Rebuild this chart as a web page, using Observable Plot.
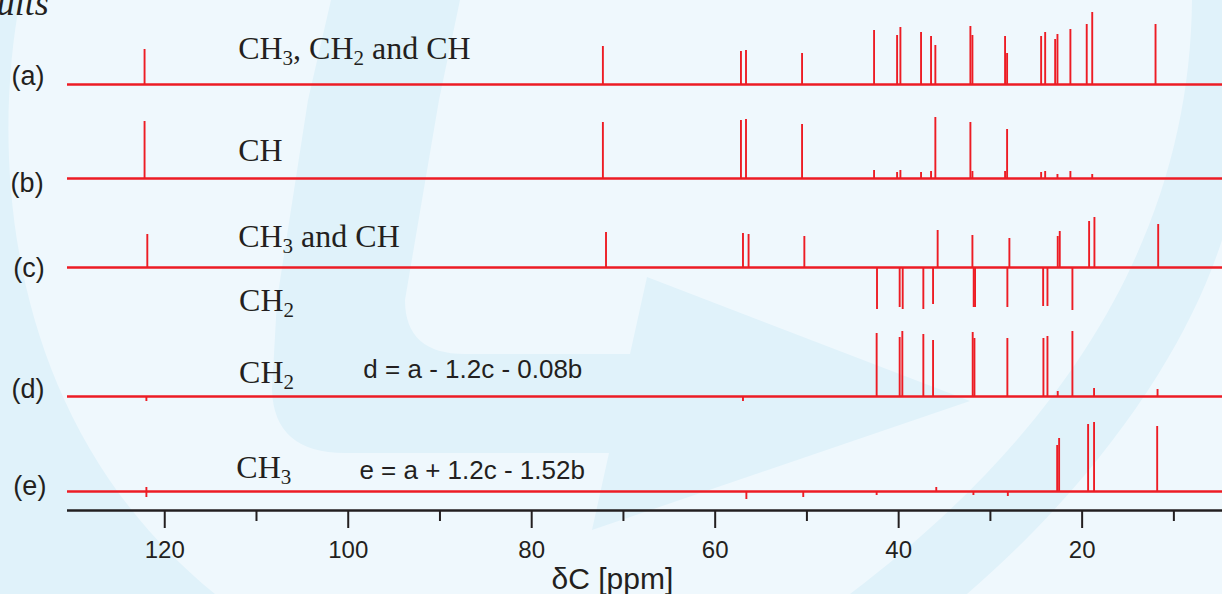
<!DOCTYPE html>
<html><head><meta charset="utf-8">
<script src="https://cdn.jsdelivr.net/npm/d3@7"></script>
<script src="https://cdn.jsdelivr.net/npm/@observablehq/plot@0.6"></script>
<style>
html,body{margin:0;padding:0;background:#eff8fd;}
#chart{width:1222px;height:594px;overflow:hidden;position:relative;}
</style></head><body><div id="chart"></div>
<script>
// ---- data ----
const traceNames   = ["a", "b", "c", "d", "e"];
const traceOffsets = [426, 332, 243, 114, 19];   // vertical stacking offset of each spectrum

// (a) CH3, CH2 and CH
const peaksA_ppm = [122.2, 72.24, 57.19, 56.64, 50.53, 42.68, 40.17, 39.81, 37.56, 36.47, 36.00, 32.18, 31.96, 28.40, 28.18, 24.47, 24.03, 22.94, 22.69, 21.28, 19.50, 18.90, 12.00];
const peaksA_int = [35, 38, 33, 34, 31, 54, 49, 57, 52, 48, 39, 58, 49, 48, 31, 48, 52, 45, 50, 55, 60, 72, 60];
// (b) CH
const peaksB_ppm = [122.2, 72.24, 57.19, 56.64, 50.53, 42.68, 40.17, 39.81, 37.56, 36.47, 36.00, 32.18, 31.96, 28.40, 28.18, 24.47, 24.03, 22.69, 21.28, 18.90];
const peaksB_int = [57, 56, 58, 59, 54, 8, 6, 8, 6, 7, 61, 56, 7, 7, 49, 6, 7, 4, 7, 4];
// (c) CH3 and CH up, CH2 down
const peaksC_ppm = [121.9, 71.9, 56.97, 56.36, 50.28, 35.75, 31.96, 27.93, 22.66, 22.44, 19.24, 18.66, 11.71, 42.36, 39.89, 39.56, 37.31, 36.25, 31.82, 31.67, 28.15, 24.25, 23.78, 21.06];
const peaksC_int = [33, 35, 34, 33, 31, 37, 32, 29, 31, 36, 46, 50, 43, -42, -40, -42, -42, -37, -40, -40, -40, -39, -39, -43];
// (d) CH2
const peaksD_ppm = [42.40, 39.89, 39.60, 37.31, 36.25, 31.93, 31.74, 28.15, 24.22, 23.78, 21.06, 22.66, 18.70, 11.78, 56.97, 122.0];
const peaksD_int = [63, 59, 65, 62, 56, 64, 58, 58, 58, 60, 65, 5, 8, 7, -5, -5];
// (e) CH3
const peaksE_ppm = [22.72, 22.51, 19.35, 18.70, 11.82, 122.0, 122.0, 56.6, 50.4, 42.4, 35.9, 31.85, 28.1];
const peaksE_int = [46, 53, 67, 69, 65, 4, -6, -8, -6, -4, 4, -4, -5];

const majorTicks = [120, 100, 80, 60, 40, 20];
const minorTicks = [110, 90, 70, 50, 30, 10];

const panelLabels = ["(a)", "(b)", "(c)", "(d)", "(e)"];
const panelLabelX = [136.7, 136.8, 136.5, 136.7, 136.5];
const panelLabelY = [426, 319, 234, 113, 16];

const groupLabels = ["CH{3}, CH{2} and CH", "CH", "CH{3} and CH", "CH{2}", "CH{2}", "CH{3}"];
const groupLabelX = [112.0, 112.0, 112.0, 111.9, 111.9, 112.2];
const groupLabelY = [452, 350, 264, 200, 128, 33];

const formulaLabels = ["d = a - 1.2c - 0.08b", "e = a + 1.2c - 1.52b"];
const formulaX = [98.35, 98.78];
const formulaY = [133, 32];

const xTitle = "δC [ppm]";
const cornerText = "ults";

// ---- build tables ----
const peakSets = [[peaksA_ppm, peaksA_int], [peaksB_ppm, peaksB_int], [peaksC_ppm, peaksC_int], [peaksD_ppm, peaksD_int], [peaksE_ppm, peaksE_int]];
const peaks = [];
peakSets.forEach(([pp, ii], k) => pp.forEach((p, j) => peaks.push({trace: traceNames[k], ppm: p, base: traceOffsets[k], top: traceOffsets[k] + ii[j]})));
const baselines = traceNames.map((t, k) => ({trace: t, y: traceOffsets[k]}));
const panels = panelLabels.map((t, k) => ({t, x: panelLabelX[k], y: panelLabelY[k]}));
const groups = groupLabels.map((t, k) => ({t, x: groupLabelX[k], y: groupLabelY[k]}));
const formulas = formulaLabels.map((t, k) => ({t, x: formulaX[k], y: formulaY[k]}));

const red = "#ed1c24";
const ink = "#231f20";
const sans = "'Liberation Sans', Arial, Helvetica, sans-serif";
const serif = "'Liberation Serif', 'Times New Roman', serif";

const chart = Plot.plot({
  width: 1222, height: 594,
  marginLeft: 67, marginRight: 0, marginTop: 0, marginBottom: 84,
  style: {background: "transparent", color: ink, fontFamily: sans, overflow: "visible"},
  x: {domain: [130.6, 4.7], label: null},
  y: {domain: [0, 510], axis: null, label: null},
  marks: [
    Plot.ruleY(baselines, {y: "y", stroke: red, strokeWidth: 2.5}),
    Plot.ruleX(peaks, {x: "ppm", y1: "base", y2: "top", stroke: red, strokeWidth: 1.9}),
    Plot.ruleY([0], {stroke: ink, strokeWidth: 2.6}),
    Plot.axisX(majorTicks, {tickSize: 18, tickPadding: 12, fontSize: 24, strokeWidth: 2, stroke: ink, fill: ink, label: null, tickFormat: d => String(d)}),
    Plot.axisX(minorTicks, {tickSize: 11, strokeWidth: 2, stroke: ink, label: null, tickFormat: () => ""}),
    Plot.text(panels, {x: "x", y: "y", text: "t", textAnchor: "start", lineAnchor: "bottom", fontSize: 27, fill: ink, fontFamily: sans}),
    Plot.text(groups, {x: "x", y: "y", text: "t", textAnchor: "start", lineAnchor: "bottom", fontSize: 32, fill: ink, fontFamily: serif}),
    Plot.text(formulas, {x: "x", y: "y", text: "t", textAnchor: "start", lineAnchor: "bottom", fontSize: 26, fill: ink, fontFamily: sans}),
    Plot.text([xTitle], {x: 71.2, y: -78, text: d => d, textAnchor: "middle", lineAnchor: "bottom", fontSize: 30, fill: ink, fontFamily: sans}),
    Plot.text([cornerText], {x: 138.3, y: 496, text: d => d, textAnchor: "start", lineAnchor: "bottom", fontSize: 36, fill: ink, fontFamily: serif, fontStyle: "italic"})
  ]
});

// background watermark shapes (decoration)
const svg = d3.select(chart);
const bg = svg.insert("g", ":first-child").attr("fill", "#e0f2fa");
bg.append("path").attr("d", "M0,0 L20,0 C-8,150 0,420 215,594 L0,594 Z");
bg.append("path").attr("d", "M331,0 L460,0 L439,100 L405,300 Q405,354 465,354 L630,354 L647,277 L970,401 L592,530 L609,453 L345,453 Q274,453 272,390 L277,300 L308,100 Z");
bg.append("path").attr("d", "M1192,0 C1190,220 1080,420 850,594 L967,594 C1110,470 1190,340 1222,240 L1222,0 Z");

// subscripts
svg.selectAll("text").each(function() {
  const t = this.textContent;
  if (!t.includes("{")) return;
  const sel = d3.select(this);
  this.textContent = "";
  let down = false;
  t.split(/(\{\d\})/).forEach(p => {
    if (!p) return;
    const m = p.match(/^\{(\d)\}$/);
    const ts = sel.append("tspan");
    if (m) { ts.text(m[1]).attr("font-size", 21).attr("dy", 6); down = true; }
    else { ts.text(p); if (down) { ts.attr("dy", -6); down = false; } }
  });
});

document.getElementById("chart").appendChild(chart);
</script></body></html>
